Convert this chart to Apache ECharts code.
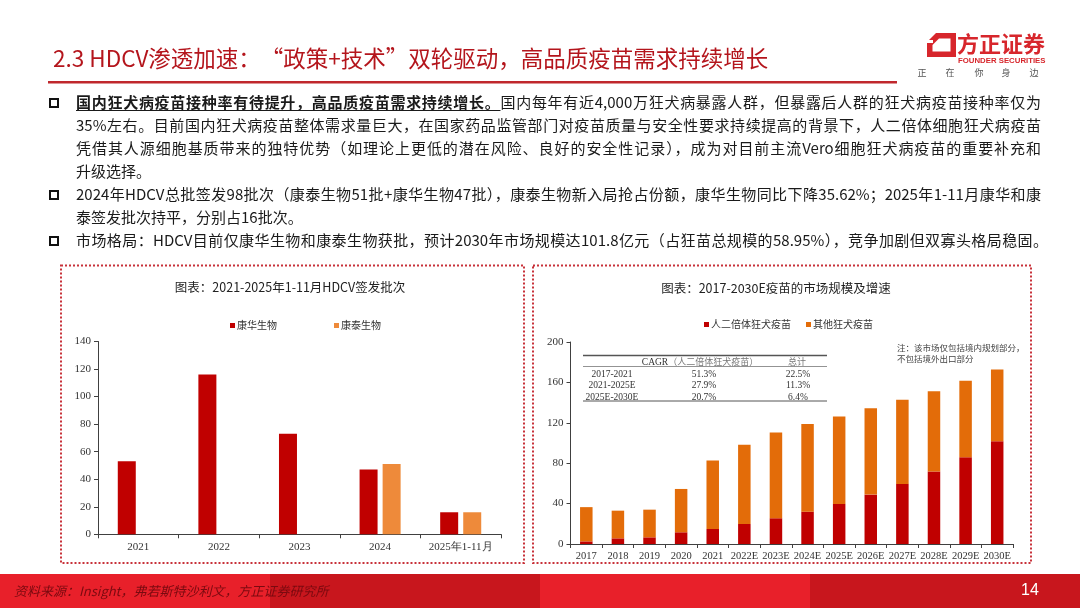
<!DOCTYPE html>
<html><head><meta charset="utf-8">
<script src="https://cdn.jsdelivr.net/npm/echarts@6.0.0/dist/echarts.min.js"></script>
<style>
html,body{margin:0;padding:0;background:#fff;}
#wrap{position:relative;width:1080px;height:608px;overflow:hidden;background:#fff;}
#chart{position:absolute;left:0;top:0;width:1080px;height:608px;}
.ln{position:absolute;left:76px;width:965px;height:20px;line-height:20px;font-family:"Noto Sans CJK SC";font-size:15px;color:#1a1a1a;white-space:nowrap;text-align:justify;text-align-last:justify;}
.ln.l{text-align:left;text-align-last:left;}
.ln b{font-weight:700;text-decoration:underline;text-underline-offset:2px;}
.bx{position:absolute;left:49px;width:6px;height:6px;border:2px solid #111;}
</style></head>
<body><div id="wrap">
<div id="chart"></div>
<div class="bx" style="top:98px"></div>
<div class="ln" style="top:92px"><b>国内狂犬病疫苗接种率有待提升，高品质疫苗需求持续增长。</b>国内每年有近4,000万狂犬病暴露人群，但暴露后人群的狂犬病疫苗接种率仅为</div>
<div class="ln" style="top:115px">35%左右。目前国内狂犬病疫苗整体需求量巨大，在国家药品监管部门对疫苗质量与安全性要求持续提高的背景下，人二倍体细胞狂犬病疫苗</div>
<div class="ln" style="top:138px">凭借其人源细胞基质带来的独特优势（如理论上更低的潜在风险、良好的安全性记录），成为对目前主流Vero细胞狂犬病疫苗的重要补充和</div>
<div class="ln l" style="top:161px">升级选择。</div>
<div class="bx" style="top:190px"></div>
<div class="ln" style="top:184px">2024年HDCV总批签发98批次（康泰生物51批+康华生物47批），康泰生物新入局抢占份额，康华生物同比下降35.62%；2025年1-11月康华和康</div>
<div class="ln l" style="top:207px">泰签发批次持平，分别占16批次。</div>
<div class="bx" style="top:236px"></div>
<div class="ln" style="top:230px;width:972px">市场格局：HDCV目前仅康华生物和康泰生物获批，预计2030年市场规模达101.8亿元（占狂苗总规模的58.95%），竞争加剧但双寡头格局稳固。</div>
</div>
<script>
// ---- data ----
const leftCats = ['2021', '2022', '2023', '2024', '2025年1-11月'];
const kanghua = [53, 116, 73, 47, 16];
const kangtai = [null, null, null, 51, 16];
const rightCats = ['2017', '2018', '2019', '2020', '2021', '2022E', '2023E', '2024E', '2025E', '2026E', '2027E', '2028E', '2029E', '2030E'];
const hdcv = [2.6, 5.6, 6.6, 11.6, 14.9, 19.8, 25.5, 32, 39.7, 48.9, 59.5, 71.7, 86, 101.8];
const otherRabies = [33.9, 27.4, 27.4, 42.9, 67.7, 78.4, 84.9, 86.7, 86.6, 85.4, 83.3, 79.6, 75.7, 70.9];
const cagrPeriods = ['2017-2021', '2021-2025E', '2025E-2030E'];
const cagrHdcv = ['51.3%', '27.9%', '20.7%'];
const cagrTotal = ['22.5%', '11.3%', '6.4%'];

const CJK = '"Noto Sans CJK SC"';
const SERIF = '"Liberation Serif", "Times New Roman", serif';
const RED = '#c00000';

const chart = echarts.init(document.getElementById('chart'));

const axisCommon = {
  axisLine: { show: true, lineStyle: { color: '#404040', width: 1 } },
  axisTick: { show: true, length: 4, lineStyle: { color: '#404040' } },
  splitLine: { show: false }
};

const g = [];
// footer
const fcol = ['#e8202a', '#c8161d', '#e8202a', '#c8161d'];
for (let i = 0; i < 4; i++) {
  g.push({ type: 'rect', silent: true, shape: { x: i * 270, y: 574, width: 270, height: 34 }, style: { fill: fcol[i] } });
}
g.push({ type: 'text', style: { text: '资料来源：Insight，弗若斯特沙利文，方正证券研究所', x: 14, y: 591, fill: '#7a0a10', font: 'italic 13px ' + CJK, verticalAlign: 'middle' } });
g.push({ type: 'text', style: { text: '14', x: 1030, y: 591, fill: '#ffffff', font: '16px "Liberation Sans", Arial', align: 'center', verticalAlign: 'middle' } });
// header
g.push({ type: 'text', style: { text: '2.3 HDCV渗透加速：“政策+技术”双轮驱动，高品质疫苗需求持续增长', x: 53, y: 58, fill: '#b4151c', font: '22.5px ' + CJK, verticalAlign: 'middle' } });
g.push({ type: 'rect', shape: { x: 48, y: 81, width: 849, height: 2.5 }, style: { fill: '#c0282d' } });
// logo
g.push({ type: 'polygon', shape: { points: [[936, 33], [956, 33], [956, 57], [927, 57], [927, 42]] }, style: { fill: '#d7262c' } });
g.push({ type: 'polygon', shape: { points: [[939, 38.5], [950.5, 38.5], [950.5, 51.5], [932.5, 51.5], [932.5, 45]] }, style: { fill: '#ffffff' } });
g.push({ type: 'rect', shape: { x: 927, y: 40, width: 6, height: 3 }, style: { fill: '#ffffff' } });
g.push({ type: 'text', style: { text: '方正证券', x: 957, y: 44, fill: '#d7262c', font: 'bold 22px ' + CJK, verticalAlign: 'middle' } });
g.push({ type: 'text', style: { text: 'FOUNDER SECURITIES', x: 958, y: 60.5, fill: '#d7262c', font: 'bold 7.8px "Liberation Sans", Arial', verticalAlign: 'middle' } });
const slog = ['正', '在', '你', '身', '边'];
const slx = [922, 950, 979, 1006, 1034];
slog.forEach((c, i) => g.push({ type: 'text', style: { text: c, x: slx[i], y: 73, fill: '#555', font: '9px ' + CJK, align: 'center', verticalAlign: 'middle' } }));
// panels
g.push({ type: 'rect', shape: { x: 61, y: 265.5, width: 463, height: 297.5 }, style: { fill: null, stroke: '#c8323a', lineWidth: 2, lineDash: [2, 2] } });
g.push({ type: 'rect', shape: { x: 533, y: 265.5, width: 498, height: 297.5 }, style: { fill: null, stroke: '#c8323a', lineWidth: 2, lineDash: [2, 2] } });
// chart titles
g.push({ type: 'text', style: { text: '图表：2021-2025年1-11月HDCV签发批次', x: 290, y: 287, fill: '#222', font: '12.5px ' + CJK, align: 'center', verticalAlign: 'middle' } });
g.push({ type: 'text', style: { text: '图表：2017-2030E疫苗的市场规模及增速', x: 776, y: 288.5, fill: '#222', font: '12.5px ' + CJK, align: 'center', verticalAlign: 'middle' } });
// table
g.push({ type: 'line', shape: { x1: 583, y1: 355.5, x2: 827, y2: 355.5 }, style: { stroke: '#555', lineWidth: 1.5 } });
g.push({ type: 'line', shape: { x1: 583, y1: 366.5, x2: 827, y2: 366.5 }, style: { stroke: '#777', lineWidth: 0.8 } });
g.push({ type: 'line', shape: { x1: 583, y1: 401, x2: 827, y2: 401 }, style: { stroke: '#555', lineWidth: 1 } });
g.push({ type: 'text', style: { text: '{a|CAGR}{b|（人二倍体狂犬疫苗）}', x: 700, y: 362, align: 'center', verticalAlign: 'middle',
  rich: { a: { font: '9.5px ' + SERIF, fill: '#333' }, b: { font: '9px ' + CJK, fill: '#777' } } } });
g.push({ type: 'text', style: { text: '总计', x: 797, y: 362, fill: '#777', font: '9px ' + CJK, align: 'center', verticalAlign: 'middle' } });
const rowY = [374, 385.7, 397.4];
cagrPeriods.forEach((p, i) => {
  g.push({ type: 'text', style: { text: p, x: 612, y: rowY[i], fill: '#333', font: '9.5px ' + SERIF, align: 'center', verticalAlign: 'middle' } });
  g.push({ type: 'text', style: { text: cagrHdcv[i], x: 704, y: rowY[i], fill: '#333', font: '9.5px ' + SERIF, align: 'center', verticalAlign: 'middle' } });
  g.push({ type: 'text', style: { text: cagrTotal[i], x: 798, y: rowY[i], fill: '#333', font: '9.5px ' + SERIF, align: 'center', verticalAlign: 'middle' } });
});
// note
g.push({ type: 'text', style: { text: '注：该市场仅包括境内规划部分，', x: 897, y: 348, fill: '#444', font: '8.5px ' + CJK, verticalAlign: 'middle' } });
g.push({ type: 'text', style: { text: '不包括境外出口部分', x: 897, y: 358.5, fill: '#444', font: '8.5px ' + CJK, verticalAlign: 'middle' } });

chart.setOption({
  animation: false,
  backgroundColor: 'transparent',
  graphic: { elements: g },
  legend: [
    { data: ['康华生物', '康泰生物'], left: 225, top: 315.5, itemWidth: 5, itemHeight: 5, itemGap: 57, icon: 'rect',
      textStyle: { fontFamily: CJK, fontSize: 10, color: '#333', padding: [0, 0, 0, -3] } },
    { data: ['人二倍体狂犬疫苗', '其他狂犬疫苗'], left: 699, top: 314.5, itemWidth: 5, itemHeight: 5, itemGap: 15, icon: 'rect',
      textStyle: { fontFamily: CJK, fontSize: 10, color: '#333', padding: [0, 0, 0, -3] } }
  ],
  grid: [
    { left: 98, right: 579, top: 341.5, bottom: 73.7, containLabel: false },
    { left: 570.5, right: 67, top: 342, bottom: 64, containLabel: false }
  ],
  xAxis: [
    Object.assign({ type: 'category', gridIndex: 0, data: leftCats,
      axisLabel: { fontFamily: SERIF, fontSize: 11, color: '#333', margin: 7, interval: 0 } }, axisCommon),
    Object.assign({ type: 'category', gridIndex: 1, data: rightCats,
      axisLabel: { fontFamily: SERIF, fontSize: 10.5, color: '#333', margin: 7, interval: 0 } }, axisCommon)
  ],
  yAxis: [
    Object.assign({ type: 'value', gridIndex: 0, min: 0, max: 140, interval: 20,
      axisLabel: { fontFamily: SERIF, fontSize: 11, color: '#333', margin: 7 } }, axisCommon),
    Object.assign({ type: 'value', gridIndex: 1, min: 0, max: 200, interval: 40,
      axisLabel: { fontFamily: SERIF, fontSize: 11, color: '#333', margin: 7 } }, axisCommon)
  ],
  series: [
    { name: '康华生物', type: 'bar', xAxisIndex: 0, yAxisIndex: 0, data: kanghua, barWidth: 18, barGap: '28%', itemStyle: { color: RED } },
    { name: '康泰生物', type: 'bar', xAxisIndex: 0, yAxisIndex: 0, data: kangtai, barWidth: 18, barGap: '28%', itemStyle: { color: '#ee8a3a' } },
    { name: '人二倍体狂犬疫苗', type: 'bar', xAxisIndex: 1, yAxisIndex: 1, stack: 'm', data: hdcv, barWidth: 12.5, itemStyle: { color: RED } },
    { name: '其他狂犬疫苗', type: 'bar', xAxisIndex: 1, yAxisIndex: 1, stack: 'm', data: otherRabies, barWidth: 12.5, itemStyle: { color: '#e36c09' } }
  ]
});
</script>
</body></html>
